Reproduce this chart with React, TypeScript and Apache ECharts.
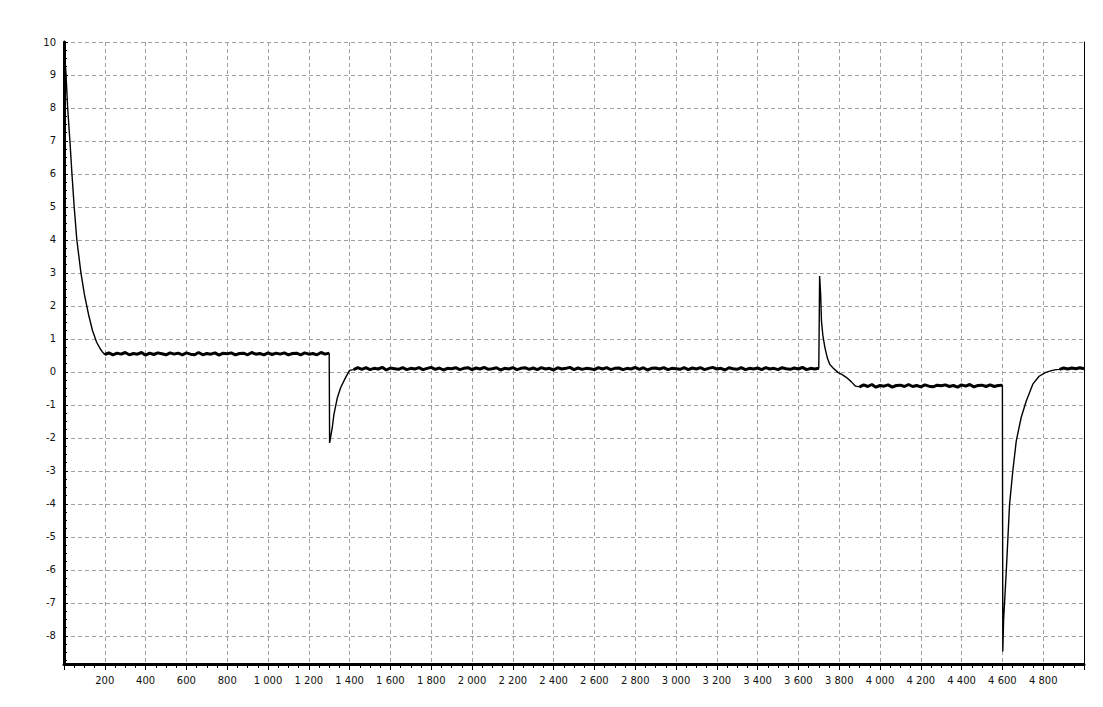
import React, { useEffect, useRef } from "react";
import * as echarts from "echarts";

// Initial decay from the start of the record
const decayStart: [number, number][] = [
  [0, 10], [4, 9.6], [10, 9.0], [18, 8.0], [29, 7.0], [39, 6.0], [50, 5.0],
  [63, 4.0], [83, 3.0], [100, 2.35], [120, 1.75], [140, 1.25], [160, 0.9],
  [180, 0.68], [192, 0.58],
];

// Plateau 1 (x = 200 .. 1300, every 20)
const plateau1Start = 200;
const plateau1: number[] = [
  0.53, 0.58, 0.52, 0.57, 0.54, 0.59, 0.52, 0.56, 0.54, 0.59, 0.51, 0.57, 0.53, 0.58, 0.55, 0.52, 0.58, 0.54, 0.57, 0.52,
  0.58, 0.54, 0.52, 0.59, 0.52, 0.56, 0.54, 0.58, 0.51, 0.57, 0.55, 0.58, 0.52, 0.56, 0.57, 0.52, 0.59, 0.54, 0.56, 0.52,
  0.58, 0.53, 0.57, 0.54, 0.58, 0.52, 0.56, 0.57, 0.52, 0.58, 0.54, 0.56, 0.52, 0.59, 0.54, 0.57,
];

// Negative step at 1300 and recovery
const dip1: [number, number][] = [
  [1302, -2.15], [1315, -1.69], [1323, -1.29], [1340, -0.78], [1356, -0.48],
  [1380, -0.17], [1400, 0.05],
];

// Plateau 2 (x = 1420 .. 3700, every 20)
const plateau2Start = 1420;
const plateau2: number[] = [
  0.07, 0.13, 0.08, 0.13, 0.07, 0.11, 0.09, 0.14, 0.06, 0.12, 0.10, 0.08, 0.13, 0.07, 0.11, 0.09, 0.13, 0.07, 0.11, 0.14,
  0.08, 0.12, 0.06, 0.11, 0.10, 0.13, 0.07, 0.11, 0.13, 0.07, 0.12, 0.09, 0.14, 0.08, 0.10, 0.13, 0.06, 0.11, 0.09, 0.13,
  0.07, 0.11, 0.13, 0.08, 0.12, 0.07, 0.13, 0.09, 0.11, 0.06, 0.13, 0.09, 0.11, 0.14, 0.07, 0.12, 0.08, 0.11, 0.10, 0.07,
  0.13, 0.09, 0.13, 0.07, 0.11, 0.12, 0.07, 0.11, 0.09, 0.14, 0.08, 0.13, 0.06, 0.11, 0.12, 0.09, 0.13, 0.07, 0.11, 0.10,
  0.08, 0.13, 0.07, 0.12, 0.09, 0.13, 0.07, 0.11, 0.14, 0.09, 0.11, 0.06, 0.13, 0.10, 0.08, 0.13, 0.07, 0.11, 0.09, 0.12,
  0.07, 0.13, 0.09, 0.11, 0.07, 0.13, 0.10, 0.08, 0.12, 0.09, 0.14, 0.07, 0.11, 0.09, 0.11,
];

// Positive spike near 3700 and decay
const spike: [number, number][] = [
  [3704, 2.91], [3709, 2.36], [3713, 1.55], [3720, 1.1], [3730, 0.74], [3742, 0.42],
  [3754, 0.23], [3770, 0.12], [3795, -0.02], [3815, -0.08], [3836, -0.17],
  [3860, -0.30], [3880, -0.43],
];

// Plateau 3 (x = 3900 .. 4600, every 20)
const plateau3Start = 3900;
const plateau3: number[] = [
  -0.45, -0.39, -0.44, -0.38, -0.46, -0.41, -0.43, -0.39, -0.46, -0.41, -0.40, -0.44, -0.38, -0.44, -0.41, -0.45, -0.39, -0.43, -0.45, -0.40,
  -0.42, -0.39, -0.44, -0.41, -0.46, -0.39, -0.43, -0.38, -0.45, -0.41, -0.40, -0.44, -0.39, -0.44, -0.41, -0.40,
];

// Large negative step at 4600 and recovery
const dip2: [number, number][] = [
  [4602, -8.47], [4606, -7.5], [4619, -6.04], [4635, -4.02], [4651, -3.0],
  [4668, -2.09], [4692, -1.38], [4717, -0.88], [4750, -0.36], [4780, -0.13],
  [4810, -0.02], [4840, 0.04], [4864, 0.07],
];

// Final plateau (x = 4880 .. 5000, every 20)
const plateau4Start = 4880;
const plateau4: number[] = [0.08, 0.12, 0.09, 0.12, 0.10, 0.13, 0.10];

const sampleStep = 20;

const xMin = 0;
const xMax = 5000;
const xInterval = 200;
const yMin = -8.85;
const yMax = 10;

function plateau(start: number, values: number[]): [number, number][] {
  return values.map((v, i) => [start + i * sampleStep, v]);
}

function fmtX(v: number): string {
  return String(v).replace(/\B(?=(\d{3})+(?!\d))/g, " ");
}

export default function App() {
  const ref = useRef<HTMLDivElement>(null);

  useEffect(() => {
    if (!ref.current) return;
    const chart = echarts.init(ref.current, undefined, { renderer: "svg" });

    const p1 = plateau(plateau1Start, plateau1);
    const p2 = plateau(plateau2Start, plateau2);
    const p3 = plateau(plateau3Start, plateau3);
    const p4 = plateau(plateau4Start, plateau4);

    const data: [number, number][] = [
      ...decayStart, ...p1, ...dip1, ...p2, ...spike, ...p3, ...dip2, ...p4,
    ];

    const labelStyle = {
      color: "#111",
      fontFamily: "DejaVu Sans",
      fontSize: 10,
    };
    const gridLine = {
      show: true,
      lineStyle: { color: "#a0a0a0", type: [4, 3] as number[], width: 1 },
    };

    const band = (d: [number, number][]) => ({
      type: "line",
      data: d,
      showSymbol: false,
      symbol: "none",
      lineStyle: { color: "#000", width: 3 },
      silent: true,
    });

    chart.setOption({
      animation: false,
      backgroundColor: "#ffffff",
      grid: { left: 64, top: 42, right: 19, bottom: 43, containLabel: false },
      xAxis: {
        type: "value",
        min: xMin,
        max: xMax,
        interval: xInterval,
        axisLine: { show: true, onZero: false, lineStyle: { color: "#000", width: 3 } },
        axisTick: { show: true, length: 6, lineStyle: { color: "#000", width: 1 } },
        minorTick: { show: true, splitNumber: 4, length: 4, lineStyle: { color: "#000", width: 1 } },
        axisLabel: {
          ...labelStyle,
          margin: 11,
          showMinLabel: false,
          showMaxLabel: false,
          formatter: (v: number) => fmtX(v),
        },
        splitLine: gridLine,
      },
      yAxis: [
        {
          type: "value",
          min: yMin,
          max: yMax,
          splitNumber: 19,
          axisLine: { show: true, onZero: false, lineStyle: { color: "#000", width: 3 } },
          axisTick: { show: true, inside: true, length: 4, lineStyle: { color: "#000", width: 1 } },
          minorTick: { show: true, splitNumber: 4, length: 3, lineStyle: { color: "#000", width: 1 } },
          axisLabel: {
            ...labelStyle,
            margin: 8,
            showMinLabel: false,
            formatter: (v: number) => (Number.isInteger(v) ? String(v) : ""),
          },
          splitLine: gridLine,
        },
        {
          type: "value",
          position: "right",
          min: yMin,
          max: yMax,
          axisLine: { show: true, onZero: false, lineStyle: { color: "#000", width: 1 } },
          axisTick: { show: false },
          axisLabel: { show: false },
          splitLine: { show: false },
        },
      ],
      series: [
        {
          type: "line",
          data,
          showSymbol: false,
          symbol: "none",
          lineStyle: { color: "#000", width: 1.4 },
          silent: true,
        },
        band(p1),
        band(p2),
        band(p3),
        band(p4),
      ],
    });

    return () => chart.dispose();
  }, []);

  return (
    <div
      ref={ref}
      style={{ position: "fixed", left: 0, top: 0, width: 1103, height: 707, background: "#fff" }}
    />
  );
}
